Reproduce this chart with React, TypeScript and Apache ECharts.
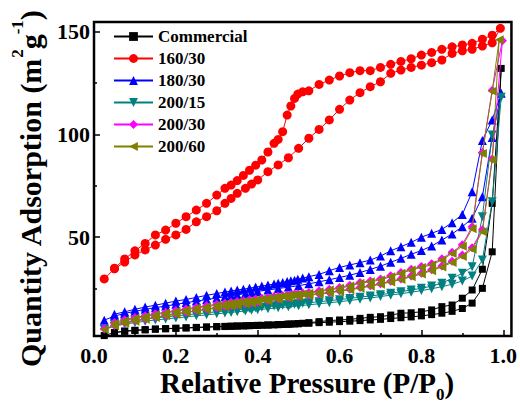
import React, { useEffect, useRef } from 'react';
import * as echarts from 'echarts';

const seriesNames = ['Commercial', '160/30', '180/30', '200/15', '200/30', '200/60'];
const seriesColors = ['#000000', '#ff0000', '#0000ff', '#008080', '#ff00ff', '#808000'];
const seriesSymbols = ['rect', 'circle', 'triangle', 'triangle', 'diamond', 'triangle'];
const seriesSymbolRotate = [0, 0, 0, 180, 0, 90];
const seriesSymbolSize = [7, 9, 9, 9, 9, 9];

// relative pressure P/P0 of the adsorption branch (rising) and desorption branch (falling)
const pAds = [0.025, 0.05, 0.075, 0.1, 0.125, 0.15, 0.175, 0.2, 0.225, 0.25,
  0.275, 0.3, 0.32, 0.335, 0.35, 0.37, 0.385, 0.4, 0.425, 0.45,
  0.475, 0.5, 0.525, 0.55, 0.575, 0.6, 0.625, 0.65, 0.675, 0.7,
  0.725, 0.75, 0.775, 0.8, 0.825, 0.85, 0.875, 0.9, 0.924, 0.949,
  0.973];
const pDes = [0.973, 0.949, 0.924, 0.9, 0.875, 0.85, 0.825, 0.8, 0.775, 0.75,
  0.725, 0.7, 0.675, 0.65, 0.625, 0.6, 0.575, 0.55, 0.525, 0.51,
  0.498, 0.49, 0.481, 0.472, 0.461, 0.45, 0.44, 0.425, 0.41, 0.395,
  0.38, 0.365, 0.35, 0.335, 0.32, 0.3, 0.275, 0.25, 0.225, 0.2,
  0.175, 0.15, 0.125, 0.1, 0.075, 0.05];

// highest point of each isotherm
const peakP = [0.995, 0.993, 0.995, 0.995, 0.998, 0.99];
const peakQ = [132.1, 151.6, 120.0, 118.0, 145.6, 146.0];

const commercialAds = [2.0, 3.5, 4.2, 4.6, 4.9, 5.2, 5.4, 5.6, 5.8, 6.0,
  6.2, 6.4, 6.5, 6.6, 6.7, 6.8, 6.9, 7.0, 7.2, 7.4,
  7.6, 7.8, 8.0, 8.3, 8.5, 8.8, 9.0, 9.3, 9.6, 9.9,
  10.3, 10.7, 11.1, 11.6, 12.2, 12.9, 13.8, 15.2, 17.8, 25.0,
  42.8];
const commercialDes = [66.4, 34.3, 24.2, 20.2, 16.9, 16.1, 14.5, 13.6, 13.1, 12.9,
  12.0, 11.2, 10.9, 10.4, 9.9, 9.6, 9.3, 8.8, 8.3, 8.0,
  7.8, 7.7, 7.6, 7.5, 7.4, 7.3, 7.2, 7.1, 7.0, 6.9,
  6.8, 6.7, 6.6, 6.5, 6.4, 6.3, 6.1, 5.9, 5.7, 5.5,
  5.3, 5.1, 4.8, 4.5, 4.1, 3.4];

const s160Ads = [29.6, 34.5, 37.8, 41.3, 43.7, 46.1, 48.9, 51.0, 53.7, 57.4,
  59.9, 62.8, 66.4, 68.8, 71.3, 73.7, 75.8, 77.8, 81.8, 85.1,
  88.6, 93.2, 98.1, 102.4, 107.0, 112.2, 116.7, 120.3, 123.2, 125.6,
  129.7, 131.3, 132.6, 133.7, 134.9, 136.2, 139.4, 140.7, 141.4, 143.0,
  144.6];
const s160Des = [148.3, 146.3, 144.3, 143.5, 142.6, 141.4, 139.9, 138.6, 136.8, 135.5,
  134.1, 132.6, 131.0, 131.0, 130.0, 128.4, 126.4, 124.3, 121.2, 120.7,
  119.6, 117.5, 113.8, 109.4, 101.3, 97.5, 95.6, 91.4, 87.5, 85.0,
  82.5, 80.0, 77.5, 75.3, 73.7, 70.4, 66.4, 63.1, 59.9, 56.7,
  53.4, 51.0, 46.9, 43.3, 39.3, 34.8];

const s180Ads = [9.5, 11.5, 12.8, 13.8, 14.8, 15.6, 16.4, 17.2, 18.0, 18.8,
  19.5, 20.3, 20.9, 21.4, 21.9, 22.5, 23.0, 23.5, 24.2, 24.9,
  25.6, 26.3, 27.2, 28.2, 29.2, 30.3, 31.4, 32.7, 34.2, 35.8,
  37.7, 39.6, 41.6, 43.4, 45.6, 48.5, 51.5, 55.0, 59.1, 69.6,
  98.5];
const s180Des = [107.0, 97.0, 72.0, 61.0, 57.0, 53.7, 51.8, 49.9, 47.4, 45.3,
  43.3, 40.7, 38.8, 37.5, 36.4, 35.2, 33.6, 31.8, 30.7, 30.0,
  29.4, 29.0, 28.7, 28.3, 27.9, 27.5, 27.1, 26.6, 26.1, 25.6,
  25.1, 24.6, 24.2, 23.7, 23.2, 22.5, 21.6, 20.6, 19.6, 18.8,
  17.8, 16.8, 15.9, 14.8, 13.6, 12.4];

const s200_15Ads = [5.0, 6.6, 7.6, 8.3, 9.0, 9.6, 10.1, 10.6, 11.1, 11.6,
  12.1, 12.6, 13.0, 13.3, 13.6, 14.0, 14.3, 14.6, 15.1, 15.5,
  16.0, 16.5, 17.0, 17.5, 18.0, 18.5, 19.1, 19.7, 20.3, 21.0,
  21.7, 22.4, 23.1, 23.9, 24.8, 25.8, 27.0, 28.6, 31.0, 38.8,
  67.2];
const s200_15Des = [99.7, 59.9, 35.5, 32.3, 29.9, 27.5, 26.1, 25.0, 24.2, 23.4,
  22.6, 21.9, 21.3, 20.7, 20.1, 19.5, 19.0, 18.5, 18.0, 17.7,
  17.5, 17.3, 17.1, 17.0, 16.8, 16.6, 16.4, 16.1, 15.8, 15.5,
  15.2, 14.9, 14.6, 14.3, 14.0, 13.6, 13.1, 12.6, 12.1, 11.6,
  11.1, 10.6, 10.0, 9.3, 8.5, 7.5];

const s200_30Ads = [5.3, 7.0, 8.2, 9.2, 10.1, 11.0, 11.8, 12.6, 13.4, 14.2,
  14.9, 15.6, 16.2, 16.6, 17.0, 17.6, 18.0, 18.4, 19.1, 19.8,
  20.5, 21.2, 21.8, 22.4, 23.0, 23.8, 24.6, 25.4, 26.3, 27.3,
  28.4, 29.6, 31.0, 32.4, 34.0, 35.9, 38.2, 41.2, 44.8, 53.5,
  88.0];
const s200_30Des = [121.5, 91.2, 55.0, 46.2, 42.6, 39.4, 37.0, 35.7, 34.3, 32.7,
  31.1, 29.5, 28.6, 27.9, 26.5, 25.4, 24.6, 23.8, 23.0, 22.7,
  22.4, 22.2, 22.0, 21.8, 21.5, 21.2, 21.0, 20.6, 20.2, 19.8,
  19.4, 19.0, 18.6, 18.2, 17.8, 17.2, 16.5, 15.8, 15.0, 14.2,
  13.4, 12.6, 11.7, 10.8, 9.7, 8.4];

const s200_60Ads = [5.0, 6.8, 8.0, 9.0, 9.9, 10.8, 11.6, 12.4, 13.2, 14.0,
  14.7, 15.4, 16.0, 16.4, 16.8, 17.4, 17.8, 18.2, 18.9, 19.6,
  20.3, 21.0, 21.6, 22.2, 22.8, 23.5, 24.3, 25.1, 26.0, 27.0,
  28.1, 29.3, 30.6, 32.0, 33.6, 35.4, 37.6, 40.5, 44.0, 52.6,
  87.5];
const s200_60Des = [121.0, 90.7, 54.0, 45.5, 42.0, 38.8, 36.4, 35.2, 33.9, 32.3,
  30.7, 29.1, 28.2, 27.5, 26.1, 25.0, 24.2, 23.4, 22.6, 22.3,
  22.0, 21.8, 21.6, 21.4, 21.1, 20.8, 20.6, 20.2, 19.8, 19.4,
  19.0, 18.6, 18.2, 17.8, 17.4, 16.8, 16.1, 15.4, 14.6, 13.8,
  13.0, 12.2, 11.3, 10.4, 9.3, 8.0];

const adsBranches = [commercialAds, s160Ads, s180Ads, s200_15Ads, s200_30Ads, s200_60Ads];
const desBranches = [commercialDes, s160Des, s180Des, s200_15Des, s200_30Des, s200_60Des];

const xMajor = [0, 0.2, 0.4, 0.6, 0.8, 1.0];
const xMinor = [0.1, 0.3, 0.5, 0.7, 0.9];
const yMajor = [50, 100, 150];
const yMinor = [25, 75, 125];

const FONT = '"Liberation Serif", "Times New Roman", serif';

export default function App() {
  const ref = useRef<HTMLDivElement>(null);
  useEffect(() => {
    if (!ref.current) return;
    const chart = echarts.init(ref.current, undefined, { renderer: 'svg' });
    const series = seriesNames.map((name, k) => {
      const data: number[][] = [];
      adsBranches[k].forEach((q, i) => data.push([pAds[i], q]));
      data.push([peakP[k], peakQ[k]]);
      desBranches[k].forEach((q, i) => data.push([pDes[i], q]));
      return {
        name,
        type: 'line',
        data,
        symbol: seriesSymbols[k],
        symbolRotate: seriesSymbolRotate[k],
        symbolSize: seriesSymbolSize[k],
        showAllSymbol: true,
        color: seriesColors[k],
        itemStyle: { color: seriesColors[k] },
        lineStyle: { color: seriesColors[k], width: 1 },
        z: 2 + k,
      };
    });
    const tickLine = { color: '#000', width: 1.5 };
    const labelStyle = { fontFamily: FONT, fontWeight: 'bold', fontSize: 22, color: '#000' };
    chart.setOption({
      animation: false,
      backgroundColor: '#fff',
      grid: {
        left: 94, right: 4, top: 22, bottom: 67,
        show: true, borderColor: '#000', borderWidth: 2.5, backgroundColor: 'transparent',
      },
      legend: {
        orient: 'vertical', left: 113, top: 28, padding: 0,
        itemWidth: 39, itemHeight: 11, itemGap: 5,
        textStyle: { fontFamily: FONT, fontWeight: 'bold', fontSize: 17, color: '#000' },
        data: seriesNames,
      },
      xAxis: [
        {
          type: 'value', min: 0, max: 1.02, position: 'bottom',
          axisLine: { show: false }, splitLine: { show: false },
          axisTick: { show: true, inside: true, length: 6, lineStyle: tickLine, customValues: xMajor },
          axisLabel: { ...labelStyle, margin: 8, customValues: xMajor, formatter: (v: number) => v.toFixed(1) },
        },
        {
          type: 'value', min: 0, max: 1.02, position: 'bottom',
          axisLine: { show: false }, splitLine: { show: false },
          axisTick: { show: true, inside: true, length: 3, lineStyle: tickLine, customValues: xMinor },
          axisLabel: { show: false },
        },
      ],
      yAxis: [
        {
          type: 'value', min: 1.8, max: 154.7, position: 'left',
          axisLine: { show: false }, splitLine: { show: false },
          axisTick: { show: true, inside: true, length: 6, lineStyle: tickLine, customValues: yMajor },
          axisLabel: { ...labelStyle, margin: 4, customValues: yMajor, formatter: (v: number) => String(v) },
        },
        {
          type: 'value', min: 1.8, max: 154.7, position: 'left',
          axisLine: { show: false }, splitLine: { show: false },
          axisTick: { show: true, inside: true, length: 3, lineStyle: tickLine, customValues: yMinor },
          axisLabel: { show: false },
        },
      ],
      graphic: [
        {
          type: 'text', x: 30, y: 189, rotation: Math.PI / 2,
          style: {
            text: '{a|Quantity Adsorption (m}{sup|2}{a|g}{sup|-1}{a|)}',
            align: 'center', verticalAlign: 'middle', fill: '#000',
            rich: {
              a: { fontFamily: FONT, fontWeight: 'bold', fontSize: 30, lineHeight: 42, fill: '#000' },
              sup: { fontFamily: FONT, fontWeight: 'bold', fontSize: 17, verticalAlign: 'top', fill: '#000' },
            },
          },
        },
        {
          type: 'text', x: 307, y: 383,
          style: {
            text: '{a|Relative Pressure (P/P}{sub|0}{a|)}',
            align: 'center', verticalAlign: 'middle', fill: '#000',
            rich: {
              a: { fontFamily: FONT, fontWeight: 'bold', fontSize: 29, lineHeight: 40, fill: '#000' },
              sub: { fontFamily: FONT, fontWeight: 'bold', fontSize: 17, verticalAlign: 'bottom', fill: '#000' },
            },
          },
        },
      ],
      series,
    });
    return () => chart.dispose();
  }, []);
  return <div ref={ref} style={{ position: 'fixed', left: 0, top: 0, width: 520, height: 403 }} />;
}
